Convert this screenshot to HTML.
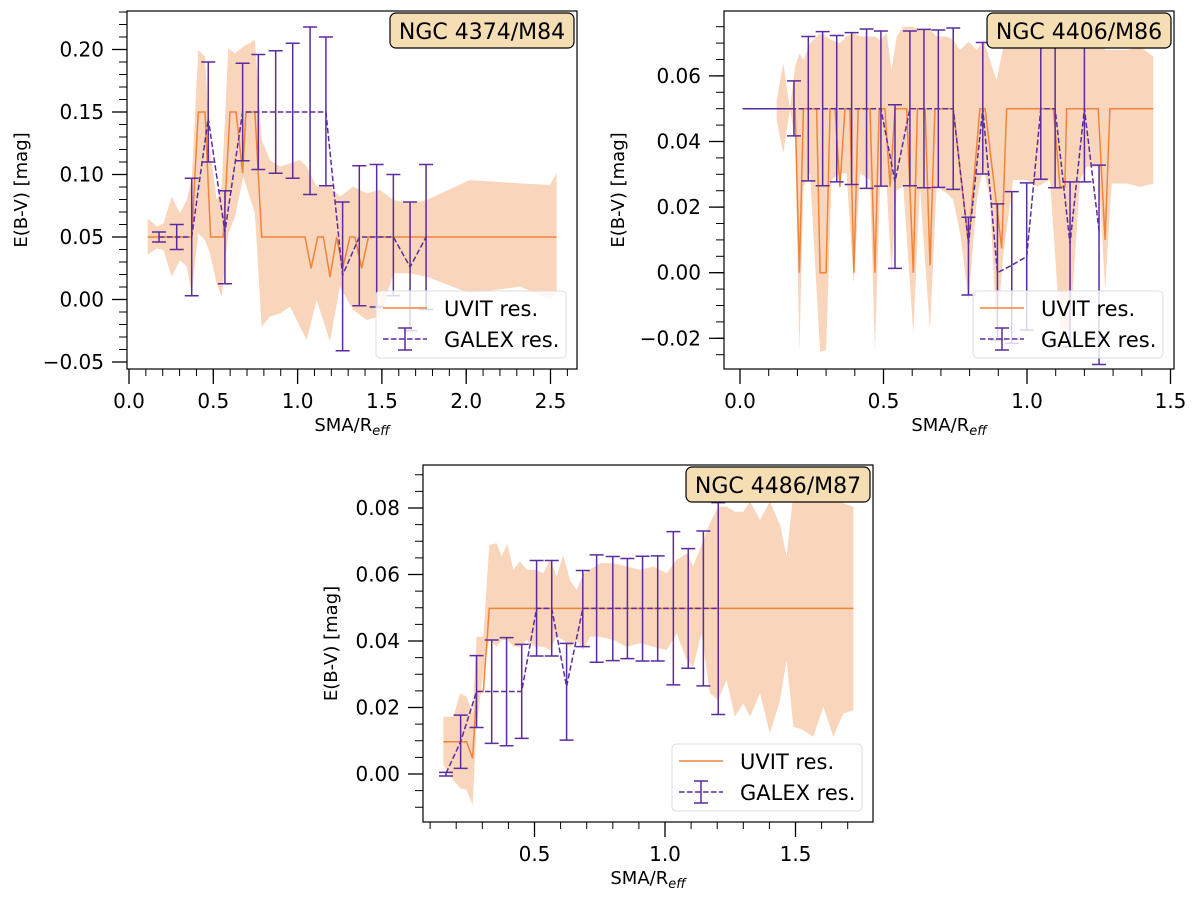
<!DOCTYPE html>
<html><head><meta charset="utf-8"><style>
body{margin:0;background:#fff;}
svg{display:block;font-family:"DejaVu Sans","Liberation Sans",sans-serif;}
</style></head><body>
<svg id="fig" width="1200" height="903" viewBox="0 0 1200 903" xmlns="http://www.w3.org/2000/svg"></svg>
<script>
// ---------- Panel 1: NGC 4374/M84 ----------
const p1UvitX=[0.111,0.372,0.411,0.451,0.484,0.559,0.599,0.635,0.674,0.694,0.747,0.787,1.044,1.080,1.119,1.153,1.192,1.232,1.267,1.311,1.340,1.380,1.420,2.536];
const p1UvitY=[0.05,0.05,0.15,0.15,0.05,0.05,0.15,0.15,0.101,0.15,0.15,0.05,0.05,0.025,0.05,0.05,0.018,0.05,0.025,0.05,0.05,0.025,0.05,0.05];
const p1BandX=[0.111,0.164,0.204,0.253,0.302,0.342,0.372,0.411,0.451,0.480,0.520,0.550,0.589,0.629,0.678,0.747,0.787,0.836,0.896,0.955,1.014,1.054,1.113,1.192,1.251,1.330,1.410,1.489,1.568,1.667,1.766,2.022,2.319,2.497,2.536];
const p1BandHi=[0.0649,0.0583,0.0609,0.0823,0.0689,0.0796,0.0956,0.1996,0.1943,0.1196,0.0796,0.0903,0.2009,0.1969,0.2023,0.2076,0.1276,0.1116,0.1063,0.1089,0.1116,0.1063,0.0903,0.0903,0.0823,0.0903,0.0849,0.0876,0.0796,0.0769,0.0796,0.0956,0.0929,0.0916,0.1010];
const p1BandLo=[0.0356,0.0409,0.0396,0.0183,0.0316,0.0263,0.0049,0.0529,0.0476,0.0369,0.0129,0.0023,0.0529,0.0663,0.0983,0.0689,-0.0217,-0.0137,-0.0111,-0.0057,-0.0217,-0.0324,-0.0004,-0.0337,0.0103,-0.0084,-0.0164,-0.0137,0.0209,0.0209,0.0183,0.0049,0.0103,-0.0004,0.0049];
const p1GalexX=[0.178,0.283,0.372,0.470,0.569,0.674,0.767,0.870,0.971,1.074,1.168,1.267,1.366,1.469,1.568,1.667,1.762];
const p1GalexY=[0.05,0.05,0.05,0.145,0.054,0.15,0.15,0.15,0.15,0.15,0.15,0.0196,0.05,0.05,0.05,0.026,0.05];
const p1GalexHi=[0.054,0.060,0.097,0.190,0.087,0.189,0.196,0.199,0.205,0.218,0.210,0.078,0.107,0.108,0.100,0.078,0.108];
const p1GalexLo=[0.046,0.040,0.003,0.110,0.0126,0.111,0.104,0.101,0.097,0.084,0.091,-0.041,-0.005,-0.006,0.003,-0.025,-0.008];
const p1XTicks=["0.0","0.5","1.0","1.5","2.0","2.5"];
const p1YTicks=["−0.05","0.00","0.05","0.10","0.15","0.20"];

// ---------- Panel 2: NGC 4406/M86 ----------
const p2UvitX=[0.168,0.192,0.207,0.221,0.267,0.279,0.300,0.314,0.331,0.348,0.366,0.383,0.397,0.412,0.453,0.470,0.485,0.505,0.523,0.540,0.581,0.604,0.618,0.645,0.662,0.679,0.743,0.796,0.836,0.854,0.912,0.929,1.092,1.115,1.132,1.138,1.248,1.272,1.289,1.440];
const p2UvitY=[0.05,0.05,0,0.05,0.05,0,0,0.05,0.05,0.0262,0.05,0.05,0,0.05,0.05,0,0.05,0.05,0.0262,0.05,0.05,0,0.05,0.05,0.0023,0.05,0.05,0.0089,0.05,0.05,0.0074,0.05,0.05,0.0262,0.0262,0.05,0.05,0.0100,0.05,0.05];
const p2BandX=[0.128,0.151,0.174,0.192,0.207,0.221,0.244,0.279,0.300,0.319,0.348,0.371,0.397,0.418,0.453,0.470,0.488,0.511,0.528,0.546,0.569,0.604,0.627,0.662,0.685,0.720,0.743,0.767,0.796,0.825,0.848,0.871,0.894,0.918,0.952,0.999,1.034,1.080,1.115,1.150,1.185,1.208,1.248,1.272,1.295,1.347,1.394,1.440];
const p2BandHi=[0.0526,0.0638,0.05,0.0628,0.0669,0.0648,0.0699,0.0730,0.0720,0.0709,0.0699,0.0720,0.0730,0.0720,0.0720,0.0720,0.0709,0.0730,0.0618,0.0720,0.0750,0.0750,0.0740,0.0740,0.0720,0.0720,0.0709,0.0679,0.0704,0.0679,0.0709,0.0648,0.0587,0.0689,0.0699,0.0699,0.0709,0.0709,0.0720,0.0720,0.0709,0.0709,0.0709,0.0679,0.0679,0.0679,0.0689,0.0659];
const p2BandLo=[0.0465,0.0364,0.05,0.0404,-0.0241,0.0262,0.0303,-0.0241,-0.0236,0.0283,0.0303,0.0303,-0.0033,0.0303,0.0283,-0.0236,0.0262,0.0262,-0.0002,0.0252,0.0262,-0.0185,0.0262,-0.0175,0.0262,0.0242,0.0222,0.0120,-0.0083,0.0222,0.0323,0.0222,-0.0185,0.0059,0.0283,0.0283,0.0262,0.0283,-0.0165,-0.0175,0.0283,0.0323,0.0323,-0.0050,0.0272,0.0272,0.0262,0.0272];
const p2GalexX=[0.009,0.188,0.238,0.288,0.337,0.389,0.441,0.491,0.540,0.592,0.641,0.691,0.743,0.796,0.846,0.897,0.947,0.999,1.048,1.098,1.150,1.200,1.251];
const p2GalexY=[0.05,0.05,0.05,0.05,0.05,0.05,0.05,0.05,0.0277,0.05,0.05,0.05,0.05,0.0089,0.05,0.0,0.0023,0.0049,0.05,0.05,0.0089,0.05,0.013];
const p2GalexHi=[0.05,0.0585,0.0720,0.0735,0.0723,0.0732,0.0743,0.0737,0.0512,0.0737,0.0742,0.0740,0.0746,0.0169,0.0702,0.0210,0.0247,0.0274,0.0720,0.0730,0.0277,0.0730,0.0328];
const p2GalexLo=[0.05,0.0417,0.0280,0.0265,0.0277,0.0269,0.0257,0.0264,0.0013,0.0265,0.0259,0.0260,0.0254,-0.0068,0.0301,-0.0205,-0.0215,-0.0175,0.0285,0.0259,-0.0226,0.0277,-0.028];
const p2XTicks=["0.0","0.5","1.0","1.5"];
const p2YTicks=["−0.02","0.00","0.02","0.04","0.06"];

// ---------- Panel 3: NGC 4486/M87 ----------
const p3UvitX=[0.151,0.240,0.263,0.278,0.304,0.327,1.722];
const p3UvitY=[0.0097,0.0097,0.0047,0.0248,0.0248,0.0498,0.0498];
const p3BandX=[0.151,0.189,0.215,0.240,0.263,0.278,0.304,0.327,0.355,0.374,0.396,0.419,0.444,0.470,0.502,0.534,0.559,0.585,0.610,0.636,0.662,0.687,0.713,0.751,0.802,0.853,0.904,0.955,1.006,1.045,1.083,1.108,1.140,1.172,1.204,1.236,1.268,1.300,1.326,1.364,1.402,1.441,1.466,1.492,1.530,1.568,1.607,1.645,1.683,1.722];
const p3BandHi=[0.0172,0.0172,0.0243,0.0233,0.0182,0.0413,0.0413,0.0689,0.0694,0.0654,0.0692,0.0614,0.0639,0.0614,0.0614,0.0604,0.0644,0.0593,0.0659,0.0583,0.0553,0.0604,0.0614,0.0634,0.0634,0.0624,0.0614,0.0624,0.0604,0.0644,0.0664,0.0624,0.0689,0.0754,0.0804,0.0804,0.0789,0.0789,0.0819,0.0764,0.0819,0.0749,0.0654,0.0844,0.0819,0.0869,0.0814,0.0849,0.0814,0.0804];
const p3BandLo=[0.0027,-0.0018,-0.0043,-0.0048,-0.0093,0.0142,0.0303,0.0403,0.0383,0.0403,0.0403,0.0383,0.0383,0.0403,0.0383,0.0383,0.0373,0.0413,0.0403,0.0383,0.0403,0.0373,0.0413,0.0413,0.0403,0.0383,0.0393,0.0383,0.0373,0.0423,0.0343,0.0323,0.0423,0.0243,0.0223,0.0283,0.0172,0.0213,0.0172,0.0243,0.0122,0.0223,0.0343,0.0142,0.0132,0.0112,0.0203,0.0112,0.0182,0.0192];
const p3GalexX=[0.161,0.217,0.278,0.336,0.393,0.451,0.508,0.566,0.623,0.685,0.738,0.800,0.856,0.914,0.972,1.032,1.089,1.147,1.204];
const p3GalexY=[0.0002,0.0097,0.0248,0.0248,0.0248,0.0248,0.0498,0.0498,0.0263,0.0498,0.0498,0.0498,0.0498,0.0498,0.0498,0.0498,0.0498,0.0498,0.0498];
const p3GalexHi=[0.0005,0.0177,0.0356,0.0403,0.0410,0.0390,0.0642,0.0642,0.0393,0.0612,0.0659,0.0654,0.0648,0.0655,0.0656,0.0729,0.0678,0.0731,0.0816];
const p3GalexLo=[-0.0006,0.0017,0.0140,0.0092,0.0085,0.0107,0.0355,0.0355,0.0102,0.0383,0.0336,0.0341,0.0347,0.0340,0.0340,0.0268,0.0318,0.0265,0.0179];
const p3XTicks=["0.5","1.0","1.5"];
const p3YTicks=["0.00","0.02","0.04","0.06","0.08"];

const NS="http://www.w3.org/2000/svg";
const svg=document.getElementById('fig');
const ORANGE="#f0843a", BAND="#f8d5bb", PURPLE="#5a2ca0";
function mk(tag,attrs,parent){const e=document.createElementNS(NS,tag);for(const k in attrs)e.setAttribute(k,attrs[k]);(parent||svg).appendChild(e);return e;}

function panel(L){
  const g=mk('g',{});
  
  
  const sx=v=>L.x0+v*L.kx, sy=v=>L.y0-(v-L.yref)*L.ky;
  const cid='clip-'+L.name;
  const cp=mk('clipPath',{id:cid},g);mk('rect',{x:L.l,y:L.t,width:L.r-L.l,height:L.b-L.t},cp);
  const plot=mk('g',{'clip-path':'url(#'+cid+')'},g);
  let d='';
  L.bx.forEach((x,i)=>{d+=(i?'L':'M')+sx(x).toFixed(1)+','+sy(L.bhi[i]).toFixed(1);});
  for(let i=L.bx.length-1;i>=0;i--)d+='L'+sx(L.bx[i]).toFixed(1)+','+sy(L.blo[i]).toFixed(1);
  const band=mk('path',{d:d+'Z',fill:BAND,stroke:'none'},plot);
  
  
  const up=L.ux.map((x,i)=>sx(x).toFixed(1)+','+sy(L.uy[i]).toFixed(1)).join(' ');
  const ul=mk('polyline',{points:up,fill:'none',stroke:ORANGE,'stroke-width':1.5},plot);
  
  
  const gp=L.gx.map((x,i)=>sx(x).toFixed(1)+','+sy(L.gy[i]).toFixed(1)).join(' ');
  const gl=mk('polyline',{points:gp,fill:'none',stroke:PURPLE,'stroke-width':1.5,'stroke-dasharray':'5.5,2.5'},plot);
  
  
  if(L.solidFirst){
    const sf=mk('line',{x1:sx(L.gx[0]),y1:sy(L.gy[0]),x2:sx(L.gx[1]),y2:sy(L.gy[1]),stroke:PURPLE,'stroke-width':1.5},plot);
    
    
  }
  L.gx.forEach((x,i)=>{
    if(L.ghi[i]===L.glo[i])return;
    const X=sx(x),T=sy(L.ghi[i]),B=sy(L.glo[i]);
    const eb=mk('path',{d:`M${X},${T}V${B}M${X-7},${T}H${X+7}M${X-7},${B}H${X+7}`,stroke:PURPLE,'stroke-width':1.5,fill:'none'},plot);
    
    
  });
  mk('rect',{x:L.l,y:L.t,width:L.r-L.l,height:L.b-L.t,fill:'none',stroke:'#000','stroke-width':1.2},g);
  for(let v=L.xmin;v<=L.xmax+1e-9;v+=0.1){const X=sx(v);if(X<L.l-0.5||X>L.r+0.5)continue;mk('line',{x1:X,x2:X,y1:L.b,y2:L.b+7,stroke:'#000','stroke-width':1},g);}
  L.xt.forEach(s=>{const v=parseFloat(s);const X=sx(v);mk('line',{x1:X,x2:X,y1:L.b,y2:L.b+15,stroke:'#000','stroke-width':1.3},g);
    const t=mk('text',{x:X,y:L.b+39,'text-anchor':'middle','font-size':20,fill:'#000'},g);t.textContent=s;
    });
  for(let k=Math.round(L.ymin/L.ym);k<=Math.round(L.ymax/L.ym);k++){const Y=sy(k*L.ym);if(Y<L.t-0.5||Y>L.b+0.5)continue;mk('line',{x1:L.l-8,x2:L.l,y1:Y,y2:Y,stroke:'#000','stroke-width':1},g);}
  L.yt.forEach(s=>{const v=parseFloat(s.replace('−','-'));const Y=sy(v);mk('line',{x1:L.l-15,x2:L.l,y1:Y,y2:Y,stroke:'#000','stroke-width':1.3},g);
    const t=mk('text',{x:L.l-23,y:Y+7,'text-anchor':'end','font-size':20,fill:'#000'},g);t.textContent=s;
    });
  const yl=mk('text',{x:0,y:0,transform:`translate(${L.yl},${(L.t+L.b)/2}) rotate(-90)`,'text-anchor':'middle','font-size':18,fill:'#000'},g);
  yl.textContent='E(B-V) [mag]';
  
  const xl=mk('text',{x:(L.l+L.r)/2,y:L.b+62,'text-anchor':'middle','font-size':18,fill:'#000'},g);
  xl.innerHTML='SMA/R<tspan font-size="13" dy="4" font-style="italic">eff</tspan>';
  
  const tb=mk('g',{},g);
  
  mk('rect',{x:L.r-187,y:L.t+2,width:184,height:35,rx:6,fill:'#f5deb3',stroke:'#000','stroke-width':1.2},tb);
  const tt=mk('text',{x:L.r-95,y:L.t+28,'text-anchor':'middle','font-size':22,fill:'#000'},tb);tt.textContent=L.title;
  const lg=mk('g',{},g);
  
  const lx=L.r-201,ly=L.b-78;
  mk('rect',{x:lx,y:ly,width:190,height:67,rx:4,fill:'#fff','fill-opacity':0.8,stroke:'#ddd','stroke-width':1},lg);
  mk('line',{x1:lx+7,x2:lx+51,y1:ly+17,y2:ly+17,stroke:ORANGE,'stroke-width':1.5},lg);
  const t1=mk('text',{x:lx+68,y:ly+25,'font-size':21,fill:'#000'},lg);t1.textContent='UVIT res.';
  
  mk('line',{x1:lx+7,x2:lx+51,y1:ly+48,y2:ly+48,stroke:PURPLE,'stroke-width':1.5,'stroke-dasharray':'5.5,2.5'},lg);
  mk('path',{d:`M${lx+29},${ly+37}V${ly+59}M${lx+22},${ly+37}H${lx+36}M${lx+22},${ly+59}H${lx+36}`,stroke:PURPLE,'stroke-width':1.5,fill:'none'},lg);
  const t2=mk('text',{x:lx+68,y:ly+56,'font-size':21,fill:'#000'},lg);t2.textContent='GALEX res.';
  
}

panel({name:'panel-ngc4374',title:'NGC 4374/M84',l:127,r:577,t:11,b:369,x0:129,kx:168.6,y0:237,yref:0.05,ky:1250,
  xmin:0,xmax:2.65,ymin:-0.06,ymax:0.24,ym:0.01,xt:p1XTicks,yt:p1YTicks,yl:27,
  ux:p1UvitX,uy:p1UvitY,bx:p1BandX,bhi:p1BandHi,blo:p1BandLo,gx:p1GalexX,gy:p1GalexY,ghi:p1GalexHi,glo:p1GalexLo});
panel({name:'panel-ngc4406',title:'NGC 4406/M86',l:724,r:1174,t:11,b:369,x0:740,kx:287,y0:108.7,yref:0.05,ky:3280,
  xmin:0,xmax:1.5,ymin:-0.03,ymax:0.08,ym:0.005,xt:p2XTicks,yt:p2YTicks,yl:624,solidFirst:true,
  ux:p2UvitX,uy:p2UvitY,bx:p2BandX,bhi:p2BandHi,blo:p2BandLo,gx:p2GalexX,gy:p2GalexY,ghi:p2GalexHi,glo:p2GalexLo});
panel({name:'panel-ngc4486',title:'NGC 4486/M87',l:423,r:873,t:465,b:822,x0:404,kx:261,y0:774,yref:0,ky:3325,
  xmin:0.1,xmax:1.75,ymin:-0.015,ymax:0.095,ym:0.005,xt:p3XTicks,yt:p3YTicks,yl:337,
  ux:p3UvitX,uy:p3UvitY,bx:p3BandX,bhi:p3BandHi,blo:p3BandLo,gx:p3GalexX,gy:p3GalexY,ghi:p3GalexHi,glo:p3GalexLo});
</script>
</body></html>
